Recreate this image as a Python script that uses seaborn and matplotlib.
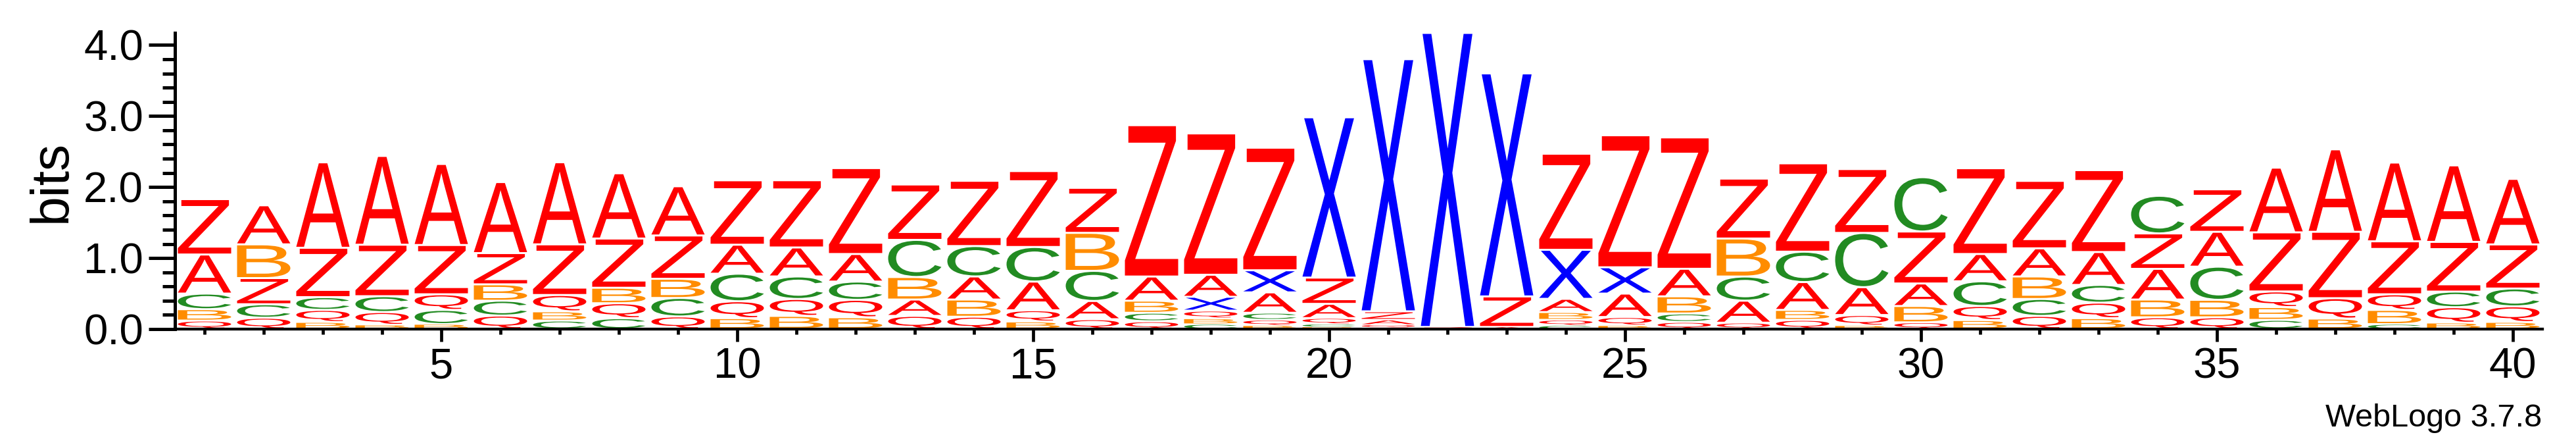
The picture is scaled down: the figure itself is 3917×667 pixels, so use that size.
import matplotlib
matplotlib.use('Agg')
import matplotlib.pyplot as plt
import seaborn as sns
import numpy as np
import pandas as pd
from matplotlib.textpath import TextPath
from matplotlib.font_manager import FontProperties
from matplotlib.patches import PathPatch
from matplotlib.transforms import Affine2D
from matplotlib.ticker import FixedLocator, MultipleLocator, FormatStrFormatter

# information content (bits) of each symbol at each position
positions = list(range(1, 41))
A_bits = [0.55, 0.55, 1.203, 1.25, 1.141, 1.0, 1.156, 0.919, 0.693, 0.408,
          0.408, 0.388, 0.23, 0.325, 0.404, 0.257, 0.34, 0.31, 0.287, 0.20,
          0.07, 0.0, 0.03, 0.186, 0.33, 0.388, 0.31, 0.392, 0.392, 0.317,
          0.384, 0.396, 0.463, 0.432, 0.491, 0.911, 1.161, 1.109, 1.077, 0.923]
B_bits = [0.16, 0.475, 0.10, 0.06, 0.07, 0.23, 0.13, 0.218, 0.27, 0.154,
          0.186, 0.166, 0.317, 0.242, 0.107, 0.535, 0.17, 0.08, 0.05, 0.03,
          0.0, 0.0, 0.0, 0.11, 0.05, 0.241, 0.535, 0.14, 0.05, 0.23,
          0.127, 0.317, 0.154, 0.25, 0.246, 0.18, 0.148, 0.20, 0.09, 0.10]
C_bits = [0.22, 0.19, 0.18, 0.223, 0.20, 0.21, 0.12, 0.154, 0.26, 0.388,
          0.317, 0.257, 0.523, 0.428, 0.487, 0.424, 0.12, 0.07, 0.10, 0.04,
          0.02, 0.0, 0.0, 0.05, 0.0, 0.12, 0.34, 0.428, 0.764, 0.765,
          0.348, 0.238, 0.25, 0.53, 0.467, 0.13, 0.0, 0.07, 0.22, 0.251]
Q_bits = [0.12, 0.16, 0.17, 0.18, 0.22, 0.19, 0.23, 0.21, 0.178, 0.238,
          0.238, 0.246, 0.186, 0.174, 0.158, 0.139, 0.11, 0.11, 0.08, 0.085,
          0.04, 0.0, 0.0, 0.08, 0.12, 0.10, 0.09, 0.13, 0.148, 0.095,
          0.198, 0.186, 0.218, 0.166, 0.166, 0.22, 0.287, 0.22, 0.218, 0.22]
X_bits = [0.0, 0.0, 0.0, 0.0, 0.0, 0.0, 0.0, 0.0, 0.0, 0.0,
          0.0, 0.0, 0.0, 0.0, 0.0, 0.0, 0.0, 0.195, 0.311, 2.257,
          3.55, 4.14, 3.14, 0.69, 0.37, 0.0, 0.0, 0.0, 0.0, 0.0,
          0.0, 0.0, 0.0, 0.0, 0.0, 0.0, 0.0, 0.0, 0.0, 0.0]
Z_bits = [0.78, 0.368, 0.695, 0.725, 0.694, 0.44, 0.713, 0.693, 0.61, 0.907,
          0.947, 1.21, 0.78, 0.919, 1.069, 0.634, 2.131, 1.99, 1.726, 0.37,
          0.12, 0.03, 0.43, 1.353, 1.859, 1.85, 0.844, 1.244, 0.899, 0.732,
          1.208, 0.95, 1.153, 0.499, 0.598, 0.832, 0.935, 0.746, 0.70, 0.621]

letter_colors = {'A': '#ff0000', 'B': '#ff8c00', 'C': '#228b22',
                 'Q': '#ff0000', 'X': '#0000ff', 'Z': '#ff0000'}

df = pd.DataFrame({'A': A_bits, 'B': B_bits, 'C': C_bits,
                   'Q': Q_bits, 'X': X_bits, 'Z': Z_bits}, index=positions)

sns.set_theme(style='ticks', rc={'axes.edgecolor': 'black', 'text.color': 'black',
                                 'xtick.color': 'black', 'ytick.color': 'black',
                                 'axes.labelcolor': 'black'})
plt.rcParams['font.family'] = ['Liberation Sans', 'DejaVu Sans']

W, H = 3917, 667
fig = plt.figure(figsize=(W / 100, H / 100), dpi=100)
ax = fig.add_axes([266 / W, (H - 500) / H, 3600 / W, 450 / H])

glyph_font = FontProperties(family='Liberation Sans', weight='normal')
glyphs = {k: TextPath((0, 0), k, size=1, prop=glyph_font) for k in letter_colors}


def draw_letter(ax, letter, x, y0, h, width=0.9):
    path = glyphs[letter]
    ext = path.get_extents()
    gap = min(0.028, 0.25 * h)
    hh = h - gap
    tr = (Affine2D()
          .translate(-ext.x0, -ext.y0)
          .scale(width / ext.width, hh / ext.height)
          .translate(x - width / 2, y0 + gap / 2))
    ax.add_patch(PathPatch(tr.transform_path(path), facecolor=letter_colors[letter],
                           edgecolor='none', lw=0))


# stack letters: smallest at the bottom, largest on top
for pos, row in df.iterrows():
    y0 = 0.0
    for letter, h in row.sort_values().items():
        if h <= 0:
            continue
        draw_letter(ax, letter, pos, y0, h)
        y0 += h

ax.set_xlim(0.5, 40.5)
ax.set_ylim(0, 4.17)
ax.xaxis.set_major_locator(FixedLocator(range(5, 41, 5)))
ax.xaxis.set_minor_locator(FixedLocator(positions))
ax.yaxis.set_major_locator(MultipleLocator(1.0))
ax.yaxis.set_minor_locator(MultipleLocator(0.2))
ax.yaxis.set_major_formatter(FormatStrFormatter('%.1f'))

ax.tick_params(axis='y', which='major', length=28.8, width=3.6, pad=5.8, labelsize=47)
ax.tick_params(axis='y', which='minor', length=13.7, width=3.6)
ax.tick_params(axis='x', which='major', length=13.7, width=3.4, pad=6, labelsize=47)
ax.tick_params(axis='x', which='minor', length=5.8, width=3.4)

sns.despine(ax=ax)
ax.spines['left'].set_linewidth(3.6)
ax.spines['bottom'].set_linewidth(3.1)
ax.grid(False)

ax.set_ylabel('bits', fontsize=58)
ax.yaxis.set_label_coords(-0.0415, 0.5)

fig.text(3865 / W, 1 - 648 / H, 'WebLogo 3.7.8', ha='right', va='baseline', fontsize=35)

fig.savefig('out.png', dpi=100)
